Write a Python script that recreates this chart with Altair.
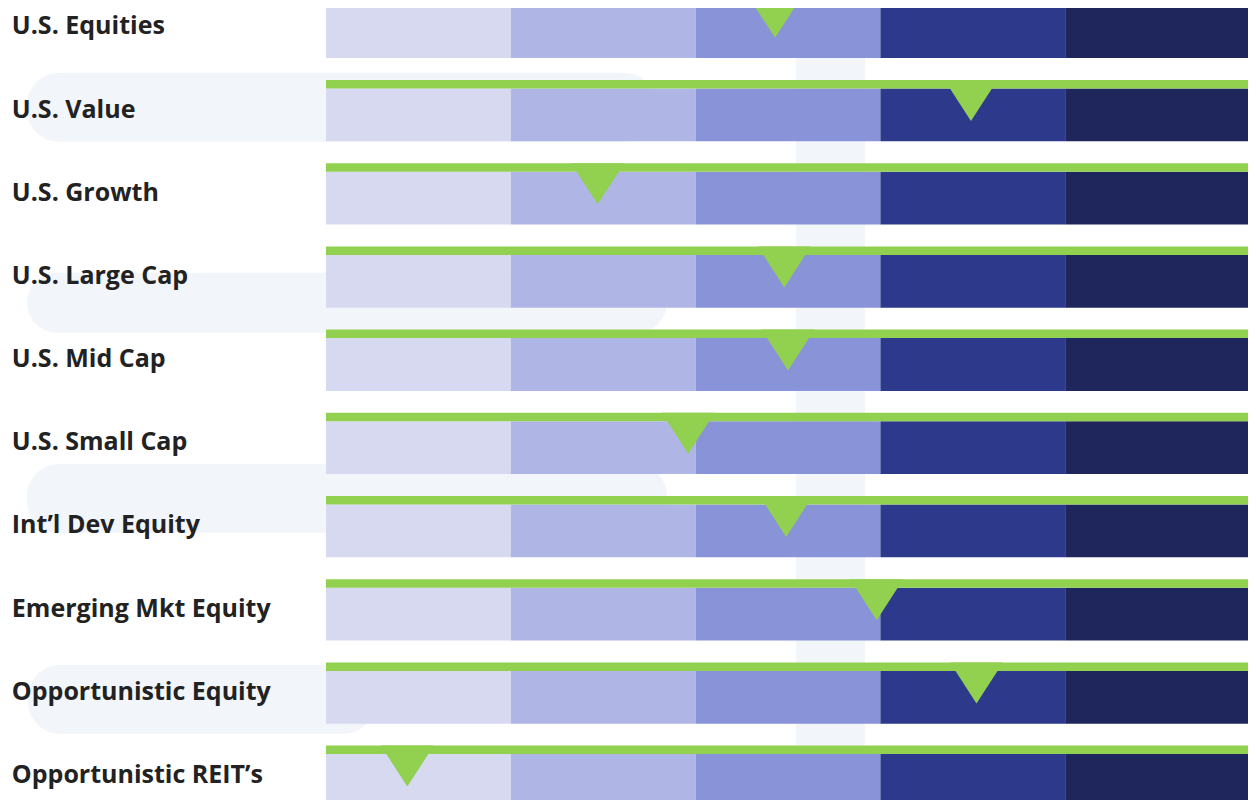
import altair as alt
import pandas as pd

# ---- data ----
categories = [
    "U.S. Equities",
    "U.S. Value",
    "U.S. Growth",
    "U.S. Large Cap",
    "U.S. Mid Cap",
    "U.S. Small Cap",
    "Int’l Dev Equity",
    "Emerging Mkt Equity",
    "Opportunistic Equity",
    "Opportunistic REIT’s",
]
# marker position on a 0..5 scale (5 equal bands)
marker_values = [2.43, 3.49, 1.47, 2.48, 2.50, 1.96, 2.49, 2.98, 3.52, 0.44]
levels = ["Level 1", "Level 2", "Level 3", "Level 4", "Level 5"]
level_colors = ["#D6D9F0", "#AFB5E4", "#8993D8", "#2D3A8B", "#1E265C"]

# decorative background pills (x in band units, y in row units)
pill_x0 = [-1.618, -1.618, -1.618, -1.612]
pill_x1 = [1.786, 1.845, 1.845, 0.265]
pill_y0 = [0.912, 3.316, 5.615, 8.031]
pill_y1 = [1.742, 4.041, 6.445, 8.861]
stripe_x = [2.543, 2.917]

# ---- layout constants ----
X_MIN, X_MAX = -1.7208, 4.9892
Y_MIN, Y_MAX = 0.1346, 9.654
GREEN_H = 0.102
BAR_B = 0.737
GREEN = "#92D050"
BG = "#F2F6FA"

rows = pd.DataFrame({
    "category": categories,
    "row": list(range(len(categories))),
    "value": marker_values,
})
segments = pd.DataFrame([
    {"category": c, "row": i, "level": lv, "start": j, "end": j + 1}
    for i, c in enumerate(categories)
    for j, lv in enumerate(levels)
])
pills = pd.DataFrame({"x0": pill_x0, "x1": pill_x1, "y0": pill_y0, "y1": pill_y1})
stripe = pd.DataFrame({"x0": [stripe_x[0]], "x1": [stripe_x[1]], "y0": [Y_MIN], "y1": [Y_MAX]})

xs = alt.Scale(domain=[X_MIN, X_MAX], nice=False, zero=False)
ys = alt.Scale(domain=[Y_MIN, Y_MAX], nice=False, zero=False, reverse=True)

stripe_layer = alt.Chart(stripe).mark_rect(color=BG).encode(
    x=alt.X("x0:Q", scale=xs, axis=None), x2="x1:Q",
    y=alt.Y("y0:Q", scale=ys, axis=None), y2="y1:Q",
)

pill_layer = alt.Chart(pills).mark_rect(color=BG, cornerRadius=32).encode(
    x=alt.X("x0:Q", scale=xs, axis=None), x2="x1:Q",
    y=alt.Y("y0:Q", scale=ys, axis=None), y2="y1:Q",
)

bar_layer = alt.Chart(segments).transform_calculate(
    y0=f"datum.row + {GREEN_H}", y1=f"datum.row + {BAR_B}"
).mark_rect(strokeWidth=0).encode(
    x=alt.X("start:Q", scale=xs, axis=None), x2="end:Q",
    y=alt.Y("y0:Q", scale=ys, axis=None), y2="y1:Q",
    color=alt.Color("level:N", scale=alt.Scale(domain=levels, range=level_colors), legend=None),
)

green_layer = alt.Chart(rows).transform_calculate(
    y0="datum.row", y1=f"datum.row + {GREEN_H}", xa="0", xb="5"
).mark_rect(color=GREEN).encode(
    x=alt.X("xa:Q", scale=xs, axis=None), x2="xb:Q",
    y=alt.Y("y0:Q", scale=ys, axis=None), y2="y1:Q",
)

tri_layer = alt.Chart(rows).transform_calculate(
    ty="datum.row + 0.2464"
).mark_point(
    shape="M-1,-0.774 L1,-0.774 L0,0.774 Z", filled=True, size=2809,
    color=GREEN, opacity=1, strokeWidth=0,
).encode(
    x=alt.X("value:Q", scale=xs, axis=None),
    y=alt.Y("ty:Q", scale=ys, axis=None),
)

label_layer = alt.Chart(rows).transform_calculate(
    ly="datum.row + 0.3546", lx="-1.70"
).mark_text(
    align="left", baseline="middle", font="Open Sans", fontWeight="bold",
    fontSize=25, color="#222222",
).encode(
    x=alt.X("lx:Q", scale=xs, axis=None),
    y=alt.Y("ly:Q", scale=ys, axis=None),
    text="category:N",
)

chart = alt.layer(
    stripe_layer, pill_layer, bar_layer, green_layer, tri_layer, label_layer
).properties(
    width=1240, height=792, padding=0,
    autosize=alt.AutoSizeParams(type="none"),
).configure_view(stroke=None)

chart.save("out.html", embed_options={"renderer": "svg", "actions": False})
